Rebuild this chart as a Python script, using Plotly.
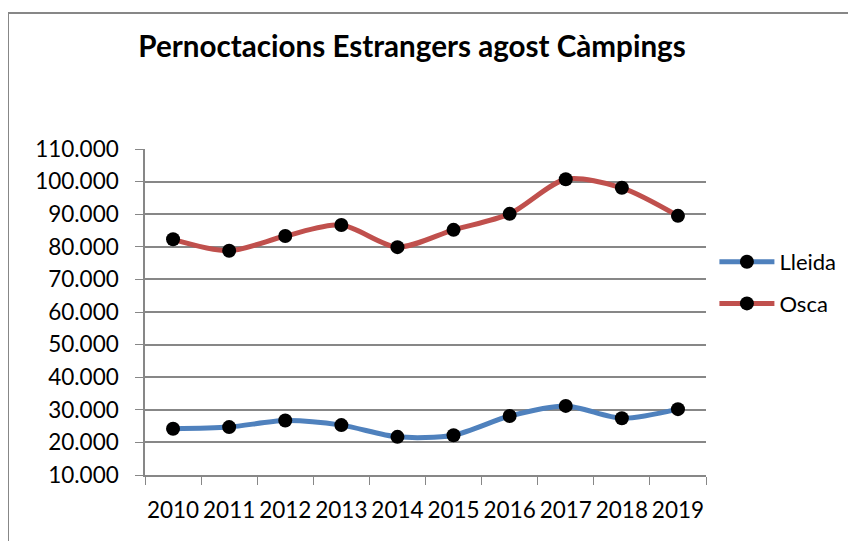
import plotly.graph_objects as go

anys = ["2010", "2011", "2012", "2013", "2014", "2015", "2016", "2017", "2018", "2019"]
lleida = [24200, 24700, 26700, 25300, 21700, 22200, 28100, 31200, 27400, 30200]
osca = [82300, 78800, 83300, 86700, 79900, 85200, 90100, 100700, 98100, 89500]

GRIS = "#878787"
FONT = "Lato"

fig = go.Figure()
fig.add_trace(go.Scatter(
    x=anys, y=lleida, name="Lleida", mode="lines+markers", legendgroup="a",
    line=dict(color="#4F81BD", width=5, shape="spline", smoothing=0.8),
    marker=dict(color="black", size=14),
))
fig.add_trace(go.Scatter(
    x=anys, y=osca, name="Osca", mode="lines+markers", legendgroup="b",
    line=dict(color="#C0504D", width=5, shape="spline", smoothing=0.8),
    marker=dict(color="black", size=14),
))

# la pàgina té un marge de 8px al body, ho compensem aquí
fig.update_layout(
    width=856, height=541,
    margin=dict(l=137, r=158, t=141, b=74, autoexpand=False),
    paper_bgcolor="white", plot_bgcolor="white",
    font=dict(family=FONT, size=22, color="black"),
    separators=",.",
    title=dict(
        text="<b>Pernoctacions Estrangers agost Càmpings</b>",
        x=0.472, xref="container", xanchor="center",
        y=0.929, yref="container", yanchor="middle",
        font=dict(family=FONT, size=29.6, color="black"),
    ),
    legend=dict(
        x=1.015, xanchor="left", y=0.589, yanchor="middle",
        tracegroupgap=10, itemwidth=55, font=dict(size=22),
        bgcolor="rgba(0,0,0,0)",
    ),
    shapes=[dict(
        type="rect", xref="paper", yref="paper",
        x0=-0.2442, x1=1.6, y0=-0.6, y1=1.4172,
        line=dict(color=GRIS, width=2), layer="below",
    )],
)

fig.update_xaxes(
    type="category", range=[-0.5, len(anys) - 0.5],
    tickson="boundaries", ticks="outside", ticklen=8,
    tickcolor=GRIS, showline=True, linecolor=GRIS, linewidth=1.5,
    showgrid=False, tickfont=dict(size=22.5), ticklabelstandoff=14,
    tickangle=0, automargin=False,
)
fig.update_yaxes(
    range=[10000, 110000], dtick=10000, tickformat=",d",
    ticks="outside", ticklen=8, tickcolor=GRIS,
    showline=True, linecolor=GRIS, linewidth=1.5,
    showgrid=True, gridcolor=GRIS, gridwidth=1.5,
    zeroline=False, tickfont=dict(size=22.5), ticklabelstandoff=12,
    automargin=False,
)

fig.write_html("out.html")
